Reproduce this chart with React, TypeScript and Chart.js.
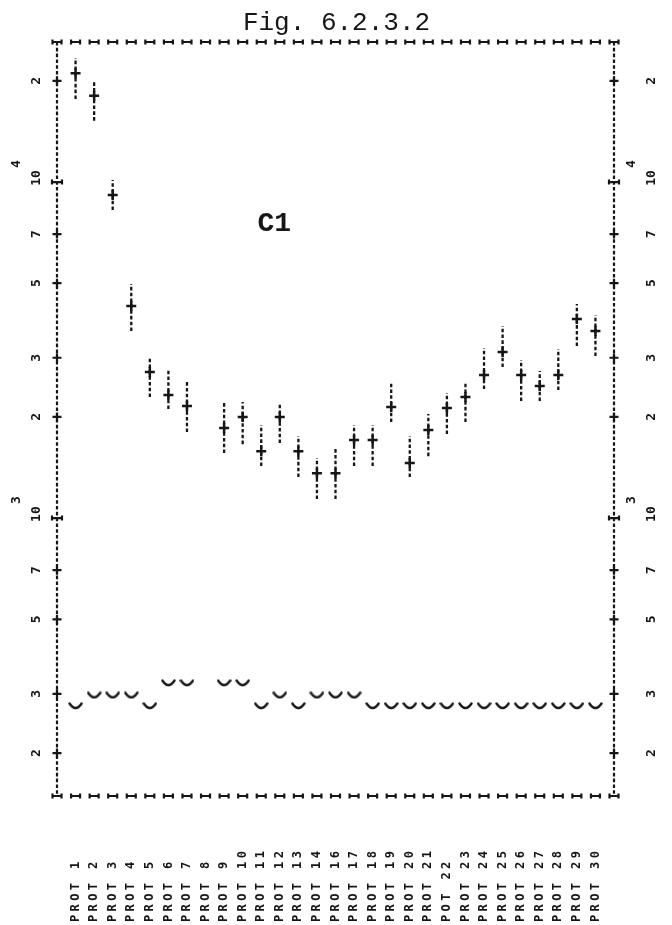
import React, { useEffect, useRef } from 'react';
import { Chart, registerables } from 'chart.js';

Chart.register(...registerables);

// ---------- data ----------
const title = 'Fig. 6.2.3.2';
const panelLabel = 'C1';

const labels = [
  'PROT 1', 'PROT 2', 'PROT 3', 'PROT 4', 'PROT 5', 'PROT 6', 'PROT 7', 'PROT 8',
  'PROT 9', 'PROT 10', 'PROT 11', 'PROT 12', 'PROT 13', 'PROT 14', 'PROT 16',
  'PROT 17', 'PROT 18', 'PROT 19', 'PROT 20', 'PROT 21', 'POT 22', 'PROT 23',
  'PROT 24', 'PROT 25', 'PROT 26', 'PROT 27', 'PROT 28', 'PROT 29', 'PROT 30',
];

const means: (number | null)[] = [
  21060, 18060, 9150, 4275, 2720, 2323, 2154, null, 1853, 1998, 1582, 1998, 1582, 1361,
  1361, 1707, 1707, 2140, 1458, 1828, 2125, 2291, 2665, 3119, 2665, 2471, 2665, 3911, 3602,
];

const lows: (number | null)[] = [
  17660, 15220, 8254, 3602, 2291, 2111, 1803, null, 1561, 1660, 1428, 1672, 1325, 1139,
  1139, 1428, 1428, 1931, 1325, 1529, 1778, 1931, 2421, 2814, 2229, 2229, 2404, 3250, 3035,
];

const highs: (number | null)[] = [
  23390, 20020, 10140, 4971, 3014, 2777, 2574, null, 2214, 2214, 1891, 2199, 1754, 1509,
  1627, 1891, 1891, 2540, 1754, 2040, 2355, 2540, 3206, 3728, 2953, 2738, 3184, 4334, 4020,
];

const floorMarks: (number | null)[] = [
  276, 297, 297, 297, 276, 323, 323, null, 323, 323, 276, 297, 276, 297, 297,
  297, 276, 276, 276, 276, 276, 276, 276, 276, 276, 276, 276, 276, 276,
];

const decadeTicks = [1000, 10000];
const minorTicks = [200, 300, 500, 700, 2000, 3000, 5000, 7000, 20000];
const yMin = 149;
const yMax = 26100;

// ---------- styles ----------
const INK = '#161616';
const MONO = '"DejaVu Sans Mono", monospace';
const TYPE = '"Liberation Mono", "DejaVu Sans Mono", monospace';

function makeSmile(): HTMLCanvasElement {
  const c = document.createElement('canvas');
  c.width = 15;
  c.height = 8;
  const g = c.getContext('2d')!;
  g.strokeStyle = INK;
  g.lineWidth = 2.4;
  g.lineCap = 'round';
  g.beginPath();
  g.moveTo(1.5, 1.5);
  g.quadraticCurveTo(7.5, 10.5, 13.5, 1.5);
  g.stroke();
  return c;
}

function sidewaysI(ctx: CanvasRenderingContext2D, cx: number, cy: number, half: number) {
  ctx.beginPath();
  ctx.moveTo(cx - half, cy);
  ctx.lineTo(cx + half, cy);
  ctx.moveTo(cx - half, cy - 2.5);
  ctx.lineTo(cx - half, cy + 2.5);
  ctx.moveTo(cx + half, cy - 2.5);
  ctx.lineTo(cx + half, cy + 2.5);
  ctx.stroke();
}

function plus(ctx: CanvasRenderingContext2D, cx: number, cy: number, half: number) {
  ctx.beginPath();
  ctx.moveTo(cx - half, cy);
  ctx.lineTo(cx + half, cy);
  ctx.moveTo(cx, cy - half);
  ctx.lineTo(cx, cy + half);
  ctx.stroke();
}

function rotatedText(ctx: CanvasRenderingContext2D, text: string, x: number, y: number, align: CanvasTextAlign) {
  ctx.save();
  ctx.translate(x, y);
  ctx.rotate(-Math.PI / 2);
  ctx.textAlign = align;
  ctx.textBaseline = 'middle';
  ctx.fillText(text, 0, 0);
  ctx.restore();
}

const printerFrame = {
  id: 'printerFrame',
  beforeDatasetsDraw(chart: any) {
    const ctx: CanvasRenderingContext2D = chart.ctx;
    const { left, right, top, bottom } = chart.chartArea;
    const xs = chart.scales.x;
    const ys = chart.scales.y;
    ctx.save();
    ctx.strokeStyle = INK;
    ctx.lineWidth = 2.2;
    ctx.setLineDash([3.6, 2.2]);
    ctx.beginPath();
    ctx.moveTo(left, top);
    ctx.lineTo(left, bottom);
    ctx.moveTo(right, top);
    ctx.lineTo(right, bottom);
    ctx.stroke();
    ctx.setLineDash([]);
    for (let v = xs.min; v <= xs.max; v++) {
      const px = xs.getPixelForValue(v);
      sidewaysI(ctx, px, top, 4.5);
      sidewaysI(ctx, px, bottom, 4.5);
    }
    for (const t of minorTicks) {
      const py = ys.getPixelForValue(t);
      plus(ctx, left, py, 4.5);
      plus(ctx, right, py, 4.5);
    }
    for (const t of decadeTicks) {
      const py = ys.getPixelForValue(t);
      sidewaysI(ctx, left, py, 5);
      sidewaysI(ctx, right, py, 5);
    }
    ctx.restore();
  },
  afterDraw(chart: any) {
    const ctx: CanvasRenderingContext2D = chart.ctx;
    const { left, right, top, bottom } = chart.chartArea;
    const xs = chart.scales.x;
    const ys = chart.scales.y;
    ctx.save();
    ctx.fillStyle = INK;
    // y tick labels, both sides
    ctx.font = `bold 13px ${MONO}`;
    for (const t of minorTicks) {
      const py = ys.getPixelForValue(t);
      const digit = String(Math.round(t / Math.pow(10, Math.floor(Math.log10(t)))));
      rotatedText(ctx, digit, left - 20, py, 'center');
      rotatedText(ctx, digit, right + 38, py, 'center');
    }
    for (const t of decadeTicks) {
      const py = ys.getPixelForValue(t);
      const exp = String(Math.round(Math.log10(t)));
      rotatedText(ctx, '10', left - 20, py - 4, 'center');
      rotatedText(ctx, '10', right + 38, py - 4, 'center');
      rotatedText(ctx, exp, left - 40, py - 18, 'center');
      rotatedText(ctx, exp, right + 18, py - 18, 'center');
    }
    // category labels
    ctx.font = `bold 12px ${MONO}`;
    (ctx as any).letterSpacing = '3.4px';
    labels.forEach((lab, i) => {
      const px = xs.getPixelForValue(i + 1);
      rotatedText(ctx, lab, px, bottom + 126, 'left');
    });
    (ctx as any).letterSpacing = '0px';
    // title and panel label
    ctx.textBaseline = 'middle';
    ctx.textAlign = 'center';
    ctx.font = `26px ${TYPE}`;
    ctx.fillText(title, (left + right) / 2 + 1, top - 19);
    ctx.font = `bold 28px ${TYPE}`;
    ctx.fillText(panelLabel, xs.getPixelForValue(11.7), ys.getPixelForValue(7500));
    ctx.restore();
  },
};

export default function App() {
  const ref = useRef<HTMLCanvasElement>(null);

  useEffect(() => {
    const canvas = ref.current!;
    const bars: any[] = [];
    const centers: any[] = [];
    const floors: any[] = [];
    means.forEach((m, i) => {
      if (m !== null && lows[i] !== null && highs[i] !== null) {
        bars.push({ x: i + 1, y: lows[i] }, { x: i + 1, y: highs[i] }, { x: i + 1, y: null });
        centers.push({ x: i + 1, y: m });
      }
      if (floorMarks[i] !== null) floors.push({ x: i + 1, y: floorMarks[i] });
    });

    const chart = new Chart(canvas, {
      type: 'scatter',
      data: {
        datasets: [
          {
            label: 'range',
            data: bars,
            showLine: true,
            spanGaps: false,
            borderColor: INK,
            borderWidth: 2.3,
            borderDash: [3.6, 2.2],
            pointRadius: 0,
            pointHoverRadius: 0,
          } as any,
          {
            label: 'value',
            data: centers,
            pointStyle: 'cross',
            pointRadius: 5,
            borderWidth: 2.5,
            borderColor: INK,
            backgroundColor: INK,
          },
          {
            label: 'floor',
            data: floors,
            pointStyle: makeSmile() as any,
            pointRadius: 6,
          },
        ],
      },
      options: {
        animation: false,
        responsive: false,
        events: [],
        layout: { padding: { left: 57, right: 58, top: 42, bottom: 129 } },
        plugins: { legend: { display: false }, tooltip: { enabled: false } },
        scales: {
          x: { type: 'linear', min: 0, max: labels.length + 1, display: false },
          y: { type: 'logarithmic', min: yMin, max: yMax, display: false },
        },
      },
      plugins: [printerFrame],
    } as any);
    return () => chart.destroy();
  }, []);

  return (
    <div style={{ position: 'fixed', left: 0, top: 0, width: 672, height: 925, background: '#ffffff' }}>
      <canvas ref={ref} width={672} height={925} style={{ width: 672, height: 925, display: 'block' }} />
    </div>
  );
}
